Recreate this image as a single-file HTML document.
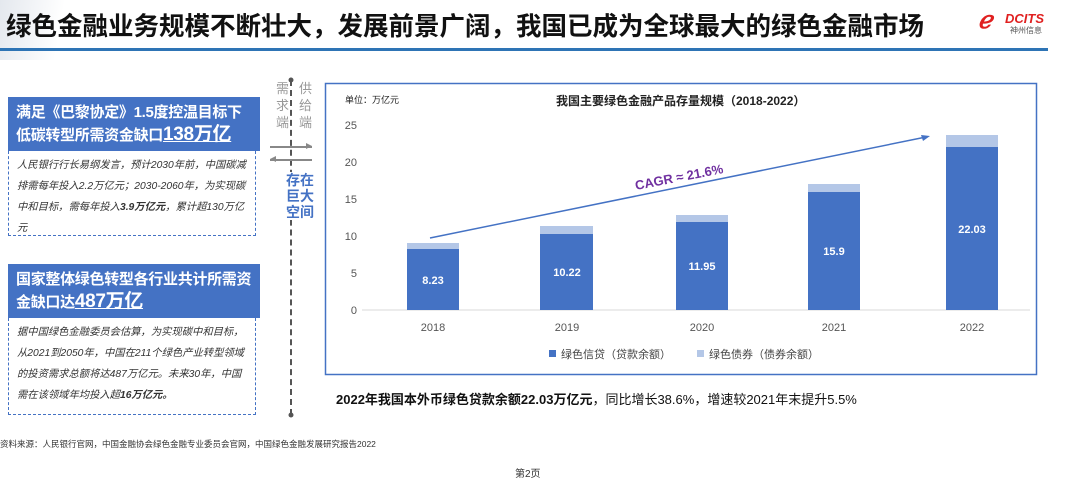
<!DOCTYPE html>
<html><head><meta charset="utf-8"><style>
body{margin:0;width:1080px;height:470px;background:#fff;position:relative;overflow:hidden;font-family:"Liberation Sans","Noto Sans CJK SC",sans-serif}
.a{position:absolute}
.bluebox{background:#4472c4;color:#fff;font-weight:bold;font-size:15px;line-height:22px;padding:5px 8px;white-space:nowrap;letter-spacing:-0.3px}
.dash{border:1.5px dashed #4472c4;border-top:none;font-style:italic;color:#333;font-size:10.3px;line-height:21px;padding:4px 8px}
</style></head><body>
<div class="a" style="left:0;top:0;width:1080px;height:60px;background:linear-gradient(100deg,#e4e8ee 0,#fff 6%)"></div>
<div class="a" style="left:6px;top:6px;font-size:25.5px;font-weight:bold;color:#111;white-space:nowrap">绿色金融业务规模不断壮大，发展前景广阔，我国已成为全球最大的绿色金融市场</div>
<div class="a" style="left:0;top:48px;width:1048px;height:3px;background:#2e74b5"></div>
<div class="a" style="left:978px;top:6px;color:#e02020;font-size:24px;font-weight:bold;font-style:italic">ℯ</div>
<div class="a" style="left:1005px;top:11px;color:#e02020;font-size:13px;font-weight:bold;font-style:italic">DCITS</div>
<div class="a" style="left:1010px;top:25px;color:#555;font-size:8px">神州信息</div>

<div class="a bluebox" style="left:8px;top:97px;width:236px;height:44px">满足《巴黎协定》1.5度控温目标下<br>低碳转型所需资金缺口<span style="font-size:19px;text-decoration:underline">138万亿</span></div>
<div class="a dash" style="left:8px;top:151px;width:230px;height:76px">人民银行行长易纲发言，预计2030年前，中国碳减排需每年投入2.2万亿元；2030-2060年，为实现碳中和目标，需每年投入<b>3.9万亿元</b>，累计超130万亿元</div>
<div class="a bluebox" style="left:8px;top:264px;width:236px;height:44px">国家整体绿色转型各行业共计所需资<br>金缺口达<span style="font-size:19px;text-decoration:underline">487万亿</span></div>
<div class="a dash" style="left:8px;top:318px;width:230px;height:88px">据中国绿色金融委员会估算，为实现碳中和目标，从2021到2050年，中国在211个绿色产业转型领域的投资需求总额将达487万亿元。未来30年，中国需在该领域年均投入超<b>16万亿元。</b></div>

<div class="a" style="left:290px;top:80px;height:335px;border-left:2px dashed #555"></div>
<div class="a" style="left:276px;top:80px;color:#999;font-size:13px;line-height:17px;width:14px">需求端</div>
<div class="a" style="left:299px;top:80px;color:#999;font-size:13px;line-height:17px;width:14px">供给端</div>
<div class="a" style="left:270px;top:146px;width:42px;height:1.5px;background:#888"></div>
<div class="a" style="left:270px;top:159px;width:42px;height:1.5px;background:#888"></div>
<div class="a" style="left:286px;top:172px;color:#4472c4;font-size:14px;font-weight:bold;line-height:16px;width:30px;background:#fff">存在<br>巨大<br>空间</div>

<svg class="a" style="left:0;top:0" width="1080" height="470">
<rect x="325.5" y="83.5" width="711" height="291" fill="none" stroke="#4472c4" stroke-width="1.5"/>
<text x="345" y="103" font-size="9" fill="#222">单位：万亿元</text>
<text x="556" y="105" font-size="12" font-weight="bold" fill="#222">我国主要绿色金融产品存量规模（2018-2022）</text>
<g font-size="11" fill="#555" text-anchor="end">
<text x="357" y="129">25</text><text x="357" y="166">20</text><text x="357" y="203">15</text><text x="357" y="240">10</text><text x="357" y="277">5</text><text x="357" y="314">0</text></g>
<line x1="362" y1="310" x2="1030" y2="310" stroke="#d9d9d9"/>
<g fill="#b4c7e7"><rect x="407" y="243" width="52" height="8"/><rect x="540" y="226" width="53" height="9"/><rect x="676" y="215" width="52" height="8"/><rect x="808" y="184" width="52" height="8"/><rect x="946" y="135" width="52" height="12"/></g>
<g fill="#4472c4"><rect x="407" y="249" width="52" height="61"/><rect x="540" y="234" width="53" height="76"/><rect x="676" y="222" width="52" height="88"/><rect x="808" y="192" width="52" height="118"/><rect x="946" y="147" width="52" height="163"/></g>
<g font-size="11" font-weight="bold" fill="#fff" text-anchor="middle"><text x="433" y="284">8.23</text><text x="567" y="276">10.22</text><text x="702" y="270">11.95</text><text x="834" y="255">15.9</text><text x="972" y="233">22.03</text></g>
<g font-size="11" fill="#555" text-anchor="middle"><text x="433" y="331">2018</text><text x="567" y="331">2019</text><text x="702" y="331">2020</text><text x="834" y="331">2021</text><text x="972" y="331">2022</text></g>
<line x1="430" y1="238" x2="926" y2="137" stroke="#4472c4" stroke-width="1.5"/>
<polygon points="930,136 921,135 923,141" fill="#4472c4"/>
<text x="636" y="190" font-size="13" font-weight="bold" fill="#7030a0" transform="rotate(-11 636 190)">CAGR ≈ 21.6%</text>
<rect x="549" y="350" width="7" height="7" fill="#4472c4"/><text x="561" y="358" font-size="11" fill="#444">绿色信贷（贷款余额）</text>
<rect x="697" y="350" width="7" height="7" fill="#b4c7e7"/><text x="709" y="358" font-size="11" fill="#444">绿色债券（债券余额）</text>
<circle cx="291" cy="80" r="2.5" fill="#555"/><circle cx="291" cy="415" r="2.5" fill="#555"/>
<polygon points="312,146 306,143 306,149" fill="#888"/><polygon points="270,159 276,156 276,162" fill="#888"/>
</svg>
<div class="a" style="left:336px;top:389px;font-size:13px;color:#111;white-space:nowrap"><b>2022年我国本外币绿色贷款余额22.03万亿元</b>，同比增长38.6%，增速较2021年末提升5.5%</div>
<div class="a" style="left:0;top:438px;font-size:8.5px;color:#333">资料来源：人民银行官网，中国金融协会绿色金融专业委员会官网，中国绿色金融发展研究报告2022</div>
<div class="a" style="left:515px;top:465px;font-size:10px;color:#333">第2页</div>
</body></html>
